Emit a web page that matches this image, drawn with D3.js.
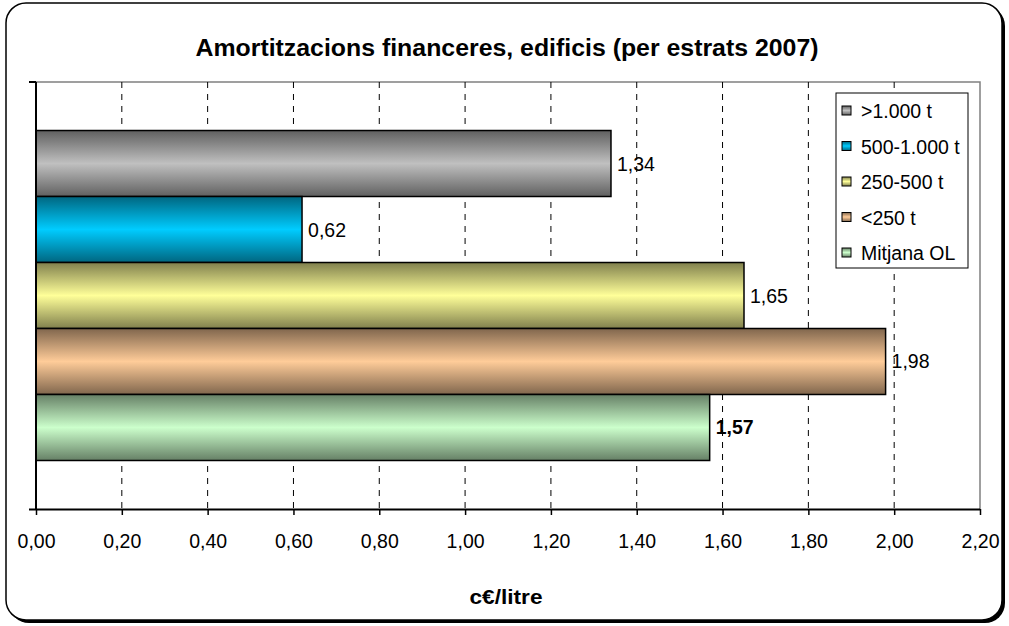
<!DOCTYPE html>
<html>
<head>
<meta charset="utf-8">
<script src="https://cdn.jsdelivr.net/npm/d3@7/dist/d3.min.js"></script>
<style>
  html, body { margin: 0; padding: 0; background: #fff; }
  svg { display: block; font-family: "Liberation Sans", Arial, sans-serif; }
</style>
</head>
<body>
<svg id="chart" width="1009" height="626"></svg>
<script>
// Series (one bar each), values in c€/litre
const seriesNames = [">1.000 t", "500-1.000 t", "250-500 t", "<250 t", "Mitjana OL"];
const seriesValues = [1.34, 0.62, 1.65, 1.98, 1.57];
const seriesColors = ["#c0c0c0", "#00ccff", "#ffff99", "#ffcc99", "#ccffcc"];
const tickValues = [0, 0.2, 0.4, 0.6, 0.8, 1.0, 1.2, 1.4, 1.6, 1.8, 2.0, 2.2];
const titleText = "Amortitzacions financeres, edificis (per estrats 2007)";
const axisTitle = "c€/litre";

const caLocale = d3.formatLocale({ decimal: ",", thousands: ".", grouping: [3], currency: ["", " €"] });
const fmt = caLocale.format(".2f");

const svg = d3.select("#chart");
const defs = svg.append("defs");

// Outer chart frame with drop shadow
svg.append("rect")
  .attr("x", 9).attr("y", 6).attr("width", 996).attr("height", 617)
  .attr("rx", 20).attr("ry", 20).attr("fill", "#000");
svg.append("rect")
  .attr("x", 6).attr("y", 3).attr("width", 996).attr("height", 617)
  .attr("rx", 20).attr("ry", 20)
  .attr("fill", "#fff").attr("stroke", "#000").attr("stroke-width", 1.5);

const plot = { left: 36, right: 980, top: 82, bottom: 509 };

const x = d3.scaleLinear().domain([0, 2.2]).range([plot.left, plot.right]);
const y = d3.scaleBand().domain(seriesNames)
  .range([plot.top, plot.bottom]).paddingInner(0).paddingOuter(0.735);

// Cylinder-like vertical gradients for each bar
seriesColors.forEach((c, i) => {
  const dark = d3.interpolateRgb(c, "#000")(0.5);
  const g = defs.append("linearGradient").attr("id", "grad" + i)
    .attr("x1", 0).attr("y1", 0).attr("x2", 0).attr("y2", 1);
  g.append("stop").attr("offset", "0%").attr("stop-color", dark);
  g.append("stop").attr("offset", "50%").attr("stop-color", c);
  g.append("stop").attr("offset", "100%").attr("stop-color", dark);
});

// Plot area border (grey, top and right)
svg.append("path")
  .attr("d", `M${plot.left},${plot.top}H${plot.right}V${plot.bottom}`)
  .attr("fill", "none").attr("stroke", "#808080").attr("stroke-width", 1.5);

// Dashed vertical gridlines
svg.append("g").selectAll("line")
  .data(tickValues.filter(v => v > 0 && v < 2.2))
  .join("line")
  .attr("x1", d => x(d)).attr("x2", d => x(d))
  .attr("y1", plot.top).attr("y2", plot.bottom)
  .attr("stroke", "#000").attr("stroke-width", 1)
  .attr("stroke-dasharray", "6,6");

// Bars
svg.append("g").selectAll("rect")
  .data(seriesNames)
  .join("rect")
  .attr("x", x(0))
  .attr("y", d => y(d))
  .attr("width", (d, i) => x(seriesValues[i]) - x(0))
  .attr("height", y.bandwidth())
  .attr("fill", (d, i) => `url(#grad${i})`)
  .attr("stroke", "#000").attr("stroke-width", 1.5);

// Value labels
svg.append("g").selectAll("text")
  .data(seriesNames)
  .join("text")
  .attr("x", (d, i) => x(seriesValues[i]) + 6)
  .attr("y", d => y(d) + y.bandwidth() / 2 + 7)
  .attr("font-size", 19.5)
  .attr("font-weight", (d, i) => i === seriesNames.length - 1 ? "bold" : "normal")
  .attr("fill", "#000")
  .text((d, i) => fmt(seriesValues[i]));

// X axis
const xAxis = d3.axisBottom(x).tickValues(tickValues).tickFormat(fmt)
  .tickSize(6).tickSizeOuter(0);
const gx = svg.append("g").attr("transform", `translate(0,${plot.bottom})`).call(xAxis);
gx.select(".domain").attr("stroke", "#000").attr("stroke-width", 2)
  .attr("d", `M${plot.left - 7},0.5H${plot.right}`);
gx.selectAll(".tick line").attr("stroke", "#000").attr("stroke-width", 1.5);
gx.selectAll(".tick text").attr("font-size", 19.5).attr("font-family", "Liberation Sans, Arial, sans-serif")
  .attr("fill", "#000").attr("dy", null).attr("y", 39);

// Y axis line with end ticks
svg.append("path")
  .attr("d", `M${plot.left},${plot.top}V${plot.bottom + 1}M${plot.left - 7},${plot.top}H${plot.left}`)
  .attr("fill", "none").attr("stroke", "#000").attr("stroke-width", 2);

// Title
svg.append("text")
  .attr("x", 507).attr("y", 56)
  .attr("text-anchor", "middle")
  .attr("font-size", 23.5).attr("font-weight", "bold")
  .attr("textLength", 623).attr("lengthAdjust", "spacingAndGlyphs")
  .text(titleText);

// Axis title
svg.append("text")
  .attr("x", 506).attr("y", 604)
  .attr("text-anchor", "middle")
  .attr("font-size", 20.5).attr("font-weight", "bold")
  .attr("textLength", 73).attr("lengthAdjust", "spacingAndGlyphs")
  .text(axisTitle);

// Legend
const legend = svg.append("g");
legend.append("rect")
  .attr("x", 836).attr("y", 93).attr("width", 132).attr("height", 175)
  .attr("fill", "#fff").attr("stroke", "#000").attr("stroke-width", 1);
const items = legend.selectAll("g.item").data(seriesNames).join("g")
  .attr("class", "item")
  .attr("transform", (d, i) => `translate(0,${111 + i * 35.5})`);
items.append("rect")
  .attr("x", 842).attr("y", -5).attr("width", 9).attr("height", 9)
  .attr("fill", (d, i) => `url(#grad${i})`)
  .attr("stroke", "#000").attr("stroke-width", 1);
items.append("text")
  .attr("x", 861).attr("y", 7)
  .attr("font-size", 19.5)
  .text(d => d);
</script>
</body>
</html>
